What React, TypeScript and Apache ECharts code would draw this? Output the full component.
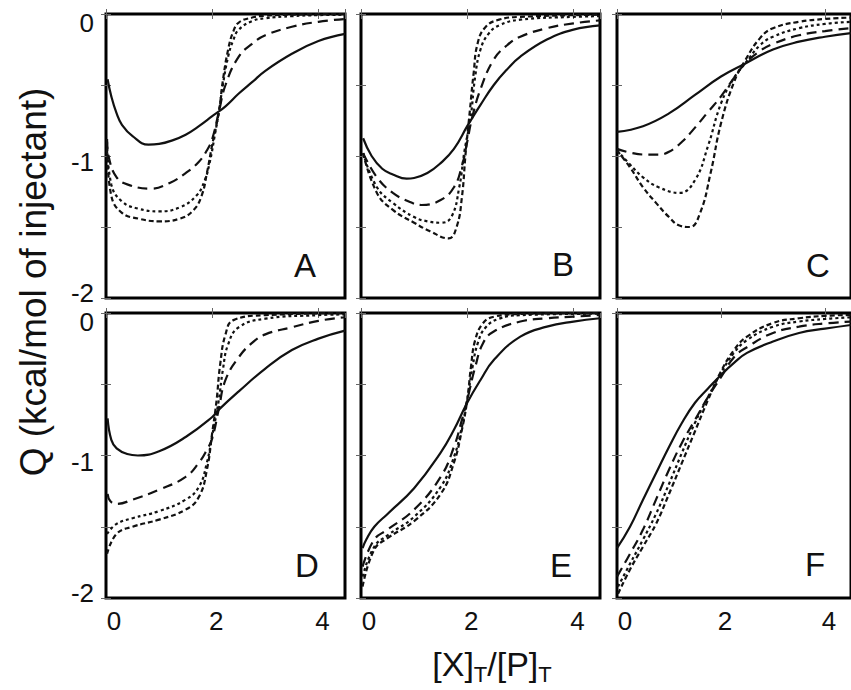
import React, { useEffect, useRef } from "react";
import * as echarts from "echarts";

type P = [number, number][];

// Panel A
const A1: P = [[0.03,-0.46],[0.1,-0.58],[0.2,-0.70],[0.3,-0.78],[0.5,-0.86],[0.8,-0.92],[1.0,-0.915],[1.25,-0.89],[1.5,-0.85],[1.75,-0.79],[2.0,-0.72],[2.25,-0.65],[2.5,-0.56],[2.75,-0.48],[3.0,-0.40],[3.5,-0.28],[4.0,-0.19],[4.5,-0.14]];
const A2: P = [[0.02,-0.88],[0.06,-1.02],[0.2,-1.15],[0.4,-1.2],[0.84,-1.23],[1.2,-1.19],[1.5,-1.12],[1.75,-1.04],[1.9,-0.96],[2.0,-0.88],[2.125,-0.69],[2.25,-0.50],[2.5,-0.30],[2.75,-0.21],[3.0,-0.15],[3.5,-0.09],[4.0,-0.055],[4.5,-0.035]];
const A3: P = [[0.02,-0.9],[0.1,-1.2],[0.3,-1.32],[0.6,-1.37],[1.0,-1.39],[1.4,-1.36],[1.7,-1.28],[1.85,-1.18],[1.95,-1.05],[2.05,-0.85],[2.125,-0.69],[2.2,-0.5],[2.3,-0.3],[2.4,-0.18],[2.5,-0.11],[2.75,-0.05],[3.0,-0.03],[3.5,-0.015],[4.0,-0.008],[4.5,-0.005]];
const A4: P = [[0.02,-0.95],[0.1,-1.28],[0.3,-1.4],[0.6,-1.44],[1.0,-1.46],[1.4,-1.44],[1.65,-1.38],[1.8,-1.28],[1.9,-1.12],[2.0,-0.92],[2.125,-0.69],[2.2,-0.47],[2.3,-0.25],[2.4,-0.12],[2.5,-0.06],[2.75,-0.025],[3.0,-0.012],[3.5,-0.005],[4.5,0]];

// Panel B
const B1: P = [[0.04,-0.875],[0.2,-1.0],[0.4,-1.09],[0.6,-1.13],[0.86,-1.16],[1.0,-1.155],[1.25,-1.12],[1.5,-1.05],[1.75,-0.95],[2.0,-0.79],[2.09,-0.735],[2.25,-0.64],[2.5,-0.5],[2.75,-0.39],[3.0,-0.30],[3.5,-0.18],[4.0,-0.11],[4.5,-0.08]];
const B2: P = [[0.04,-0.98],[0.3,-1.15],[0.6,-1.26],[0.9,-1.32],[1.14,-1.345],[1.5,-1.31],[1.75,-1.22],[1.9,-1.07],[2.0,-0.9],[2.09,-0.735],[2.25,-0.53],[2.5,-0.32],[2.75,-0.22],[3.0,-0.16],[3.5,-0.10],[4.0,-0.066],[4.5,-0.045]];
const B3: P = [[0.04,-0.98],[0.3,-1.22],[0.6,-1.33],[1.0,-1.43],[1.25,-1.46],[1.5,-1.47],[1.7,-1.43],[1.85,-1.22],[1.95,-0.96],[2.06,-0.74],[2.15,-0.44],[2.25,-0.25],[2.4,-0.14],[2.6,-0.08],[3.0,-0.04],[4.0,-0.02],[4.5,-0.015]];
const B4: P = [[0.04,-0.98],[0.3,-1.26],[0.6,-1.38],[1.0,-1.47],[1.3,-1.53],[1.65,-1.58],[1.8,-1.50],[1.9,-1.29],[1.97,-0.98],[2.05,-0.68],[2.12,-0.42],[2.2,-0.2],[2.35,-0.09],[2.6,-0.04],[3.0,-0.02],[4.5,-0.005]];

// Panel C
const C1: P = [[0.0,-0.83],[0.5,-0.79],[1.0,-0.70],[1.5,-0.57],[2.0,-0.44],[2.46,-0.35],[3.0,-0.25],[3.5,-0.195],[4.0,-0.16],[4.5,-0.135]];
const C2: P = [[0.0,-0.95],[0.3,-0.98],[0.6,-0.99],[0.8,-0.99],[1.0,-0.97],[1.25,-0.9],[1.5,-0.8],[1.75,-0.69],[2.0,-0.58],[2.25,-0.45],[2.46,-0.35],[2.75,-0.26],[3.0,-0.21],[3.5,-0.15],[4.0,-0.12],[4.5,-0.1]];
const C3: P = [[0.0,-0.96],[0.25,-1.06],[0.5,-1.15],[0.8,-1.22],[1.2,-1.26],[1.5,-1.17],[1.75,-0.93],[2.0,-0.63],[2.25,-0.45],[2.46,-0.35],[2.75,-0.22],[3.0,-0.16],[3.5,-0.10],[4.0,-0.07],[4.5,-0.055]];
const C4: P = [[0.0,-0.96],[0.25,-1.08],[0.5,-1.22],[0.75,-1.33],[1.0,-1.43],[1.2,-1.49],[1.4,-1.50],[1.6,-1.40],[1.8,-1.12],[2.0,-0.77],[2.25,-0.48],[2.46,-0.33],[2.75,-0.17],[3.0,-0.10],[3.5,-0.055],[4.0,-0.035],[4.5,-0.025]];

// Panel D
const D1: P = [[0.03,-0.74],[0.1,-0.89],[0.2,-0.95],[0.4,-0.99],[0.6,-1.0],[1.0,-0.97],[1.5,-0.87],[2.0,-0.73],[2.12,-0.68],[2.5,-0.55],[3.0,-0.39],[3.5,-0.26],[4.0,-0.18],[4.5,-0.124]];
const D2: P = [[0.03,-1.27],[0.08,-1.32],[0.2,-1.34],[0.5,-1.31],[1.0,-1.24],[1.5,-1.15],[1.75,-1.05],[1.9,-0.96],[2.0,-0.88],[2.12,-0.68],[2.25,-0.47],[2.5,-0.31],[2.75,-0.21],[3.0,-0.15],[3.5,-0.10],[4.0,-0.055],[4.5,-0.03]];
const D3: P = [[0.02,-1.55],[0.2,-1.48],[0.5,-1.44],[1.0,-1.39],[1.5,-1.31],[1.75,-1.22],[1.9,-1.05],[2.0,-0.86],[2.12,-0.62],[2.2,-0.40],[2.3,-0.22],[2.5,-0.10],[3.0,-0.04],[4.0,-0.015],[4.5,-0.01]];
const D4: P = [[0.02,-1.69],[0.2,-1.55],[0.5,-1.50],[1.0,-1.45],[1.5,-1.38],[1.75,-1.29],[1.9,-1.10],[2.0,-0.84],[2.08,-0.62],[2.15,-0.36],[2.25,-0.15],[2.4,-0.05],[3.0,-0.015],[4.5,0]];

// Panel E
const E1: P = [[0.03,-1.65],[0.1,-1.59],[0.25,-1.50],[0.5,-1.41],[1.0,-1.23],[1.5,-0.98],[1.75,-0.82],[2.0,-0.63],[2.25,-0.47],[2.5,-0.33],[3.0,-0.166],[3.5,-0.096],[4.0,-0.06],[4.5,-0.037]];
const E2: P = [[0.03,-1.78],[0.25,-1.59],[0.5,-1.52],[1.0,-1.38],[1.5,-1.15],[1.75,-0.94],[1.9,-0.75],[2.0,-0.61],[2.15,-0.38],[2.3,-0.21],[2.5,-0.13],[3.0,-0.06],[3.5,-0.037],[4.0,-0.026],[4.5,-0.014]];
const E3: P = [[0.03,-1.85],[0.25,-1.64],[0.5,-1.56],[1.0,-1.43],[1.5,-1.22],[1.75,-1.01],[1.9,-0.80],[2.0,-0.61],[2.1,-0.38],[2.2,-0.21],[2.35,-0.10],[2.6,-0.04],[3.0,-0.015],[4.5,-0.005]];
const E4: P = [[0.03,-1.92],[0.25,-1.66],[0.5,-1.58],[1.0,-1.46],[1.5,-1.27],[1.75,-1.05],[1.9,-0.82],[2.0,-0.61],[2.07,-0.38],[2.15,-0.19],[2.3,-0.07],[2.5,-0.026],[3.0,-0.007],[4.5,0]];

// Panel F
const F1: P = [[0.0,-1.65],[0.25,-1.50],[0.5,-1.31],[0.75,-1.125],[1.0,-0.94],[1.25,-0.77],[1.5,-0.63],[1.75,-0.53],[2.0,-0.435],[2.25,-0.35],[2.5,-0.28],[3.0,-0.20],[3.5,-0.14],[4.0,-0.11],[4.5,-0.084]];
const F2: P = [[0.0,-1.85],[0.25,-1.69],[0.5,-1.52],[0.75,-1.31],[1.0,-1.10],[1.25,-0.91],[1.5,-0.75],[1.75,-0.59],[2.0,-0.45],[2.25,-0.31],[2.5,-0.24],[3.0,-0.14],[3.5,-0.096],[4.0,-0.073],[4.5,-0.06]];
const F3: P = [[0.02,-1.92],[0.25,-1.76],[0.5,-1.59],[0.75,-1.41],[1.0,-1.2],[1.25,-0.98],[1.5,-0.77],[1.75,-0.59],[2.0,-0.42],[2.25,-0.28],[2.5,-0.19],[3.0,-0.096],[3.5,-0.06],[4.0,-0.042],[4.5,-0.03]];
const F4: P = [[0.02,-1.97],[0.25,-1.80],[0.5,-1.64],[0.75,-1.48],[1.0,-1.27],[1.25,-1.05],[1.5,-0.83],[1.75,-0.61],[2.0,-0.41],[2.25,-0.26],[2.5,-0.166],[3.0,-0.07],[3.5,-0.037],[4.0,-0.02],[4.5,-0.014]];

const panelLetters = ["A", "B", "C", "D", "E", "F"];
const panelCurves: P[][] = [
  [A1, A2, A3, A4],
  [B1, B2, B3, B4],
  [C1, C2, C3, C4],
  [D1, D2, D3, D4],
  [E1, E2, E3, E4],
  [F1, F2, F3, F4],
];
const xTickLabels = [0, 2, 4];
const yTickLabels = [0, -1, -2];
const yTitle = "Q (kcal/mol of injectant)";

const FONT = "Liberation Sans, Arial, Helvetica, sans-serif";
const INK = "#111";
const DASHES: (number[] | "solid")[] = ["solid", [10, 6], [3, 3], [5, 3]];

// layout (pixels)
const COL_LEFT = [106, 361, 617];
const ROW_TOP = [14, 313];
const GW = 239;
const GH = [284, 285];
const LETTER_POS: [number, number][] = [
  [305, 265], [563, 264], [818, 265],
  [307, 565], [561, 565], [815, 564],
];

export default function App() {
  const ref = useRef<HTMLDivElement>(null);
  useEffect(() => {
    document.body.style.margin = "0";
    if (!ref.current) return;
    const chart = echarts.init(ref.current, undefined, { renderer: "svg" });
    const grid: any[] = [];
    const xAxis: any[] = [];
    const yAxis: any[] = [];
    const series: any[] = [];
    for (let i = 0; i < 6; i++) {
      const r = Math.floor(i / 3);
      const c = i % 3;
      grid.push({
        left: COL_LEFT[c], top: ROW_TOP[r], width: GW, height: GH[r],
        show: true, borderColor: "#000", borderWidth: 3, backgroundColor: "transparent",
      });
      const tick = { show: true, inside: true, length: 5, lineStyle: { color: "#666", width: 1 } };
      xAxis.push({
        type: "value", gridIndex: i, min: 0, max: 4.5, interval: 2, position: "bottom",
        axisLine: { show: false }, splitLine: { show: false }, axisTick: tick,
        axisLabel: {
          show: r === 1, margin: 10, color: INK, fontFamily: FONT, fontSize: 26,
          showMaxLabel: false,
          formatter: (v: number) => xTickLabels.includes(v) ? (v === 0 ? `{z|${v}}` : `{o|${v}}`) : "",
          rich: {
            z: { fontSize: 26, fontFamily: FONT, color: INK, padding: [0, 0, 0, 16] },
            o: { fontSize: 26, fontFamily: FONT, color: INK, padding: [0, 0, 0, 8] },
          },
        },
      });
      xAxis.push({
        type: "value", gridIndex: i, min: 0, max: 4.5, interval: 2, position: "top",
        axisLine: { show: false }, splitLine: { show: false }, axisTick: tick,
        axisLabel: { show: false },
      });
      yAxis.push({
        type: "value", gridIndex: i, min: -2, max: 0, interval: 0.5, position: "left",
        axisLine: { show: false }, splitLine: { show: false }, axisTick: tick,
        axisLabel: {
          show: c === 0, margin: 12, color: INK, fontFamily: FONT, fontSize: 26,
          formatter: (v: number) => {
            if (!yTickLabels.includes(v)) return "";
            if (v === 0) return `{t|${v}}`;
            if (v === -2) return `{b|${v}}`;
            return `{m|${v}}`;
          },
          rich: {
            t: { fontSize: 26, fontFamily: FONT, color: INK, padding: [18, 0, 0, 0] },
            m: { fontSize: 26, fontFamily: FONT, color: INK, padding: [12, 0, 0, 0] },
            b: { fontSize: 26, fontFamily: FONT, color: INK, padding: [0, 0, 10, 0] },
          },
        },
      });
      yAxis.push({
        type: "value", gridIndex: i, min: -2, max: 0, interval: 0.5, position: "right",
        axisLine: { show: false }, splitLine: { show: false }, axisTick: tick,
        axisLabel: { show: false },
      });
      panelCurves[i].forEach((data, k) => {
        series.push({
          type: "line", xAxisIndex: 2 * i, yAxisIndex: 2 * i, data,
          showSymbol: false, symbol: "none", smooth: 0.45,
          lineStyle: { color: INK, width: 2.2, type: DASHES[k] },
          clip: true, silent: true,
        });
      });
    }
    const graphic: any[] = panelLetters.map((t, i) => ({
      type: "text", x: LETTER_POS[i][0], y: LETTER_POS[i][1], silent: true,
      style: { text: t, fontSize: 33, fontFamily: FONT, fill: INK, align: "center", verticalAlign: "middle" },
    }));
    graphic.push({
      type: "text", x: 33, y: 282, rotation: Math.PI / 2, silent: true,
      style: { text: yTitle, fontSize: 37, fontFamily: FONT, fill: INK, align: "center", verticalAlign: "middle" },
    });
    graphic.push({
      type: "text", x: 492, y: 664, silent: true,
      style: {
        text: "{n|[X]}{s|T}{n|/[P]}{s|T}", align: "center", verticalAlign: "middle",
        rich: {
          n: { fontSize: 34, fontFamily: FONT, fill: INK },
          s: { fontSize: 22, fontFamily: FONT, fill: INK, padding: [20, 0, 0, 0] },
        },
      },
    });
    chart.setOption({
      animation: false,
      backgroundColor: "#fff",
      grid, xAxis, yAxis, series, graphic,
    });
    return () => chart.dispose();
  }, []);
  return <div ref={ref} style={{ width: 851, height: 690 }} />;
}
